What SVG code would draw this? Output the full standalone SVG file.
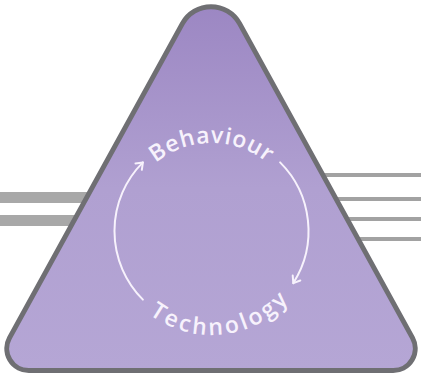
<svg xmlns="http://www.w3.org/2000/svg" width="421" height="376" viewBox="0 0 421 376">
  <defs>
    <linearGradient id="fillGrad" x1="0" y1="0" x2="0" y2="1">
      <stop offset="0" stop-color="#9c87c3"/>
      <stop offset="0.5" stop-color="#b0a0d1"/>
      <stop offset="1" stop-color="#b5a6d5"/>
    </linearGradient>
    <marker id="chev" markerUnits="userSpaceOnUse" markerWidth="16" markerHeight="16" refX="0" refY="0" viewBox="-8 -8 16 16" orient="auto" overflow="visible">
      <path d="M -6,-4.5 L 0,0 L -6,4.5" fill="none" stroke="#f7f2fc" stroke-width="2" stroke-linecap="round" stroke-linejoin="round"/>
    </marker>
    <path id="topArc" d="M 123.5,231 A 88 88 0 0 1 299.5,231"/>
    <path id="botArc" d="M 107.5,231 A 104 104 0 0 0 315.5,231"/>
  </defs>
  <style>
    .bar { fill: #a8a8a8; }
    .line { fill: #a2a2a2; }
    .tri { fill: url(#fillGrad); stroke: #6f6f73; stroke-width: 5; stroke-linejoin: round; }
    .cyc { fill: none; stroke: #f7f2fc; stroke-width: 2; stroke-linecap: round; }
    .lbl { font-family: "Open Sans", "Liberation Sans", sans-serif; font-size: 23px; font-weight: 600; fill: #f7f2fc; }
  </style>
  <rect width="421" height="376" fill="#ffffff"/>
  <g id="background-lines">
    <rect class="bar" x="0" y="192" width="130" height="11"/>
    <rect class="bar" x="0" y="215" width="130" height="11"/>
    <rect class="line" x="290" y="173" width="131" height="4"/>
    <rect class="line" x="290" y="197" width="131" height="4"/>
    <rect class="line" x="290" y="217" width="131" height="4"/>
    <rect class="line" x="290" y="237" width="131" height="4"/>
  </g>
  <g id="triangle">
    <path class="tri" d="M 182.5,23.4 A 32.6 32.6 0 0 1 239.5,23.4 L 412.5,337.9 A 22 22 0 0 1 393.2,370.5 L 28.8,370.5 A 22 22 0 0 1 9.5,337.9 Z"/>
  </g>
  <g id="connectors">
    <path class="cyc" d="M 142.9,299.6 A 97 97 0 0 1 142.9,162.4" marker-end="url(#chev)"/>
    <path class="cyc" d="M 280.1,162.4 A 97 97 0 0 1 293.3,283.1" marker-end="url(#chev)"/>
  </g>
  <g id="behaviour">
    <text class="lbl" letter-spacing="0.8"><textPath href="#topArc" startOffset="50%" text-anchor="middle">Behaviour</textPath></text>
  </g>
  <g id="technology">
    <text class="lbl" letter-spacing="3"><textPath href="#botArc" startOffset="53.5%" text-anchor="middle">Technology</textPath></text>
  </g>
</svg>
